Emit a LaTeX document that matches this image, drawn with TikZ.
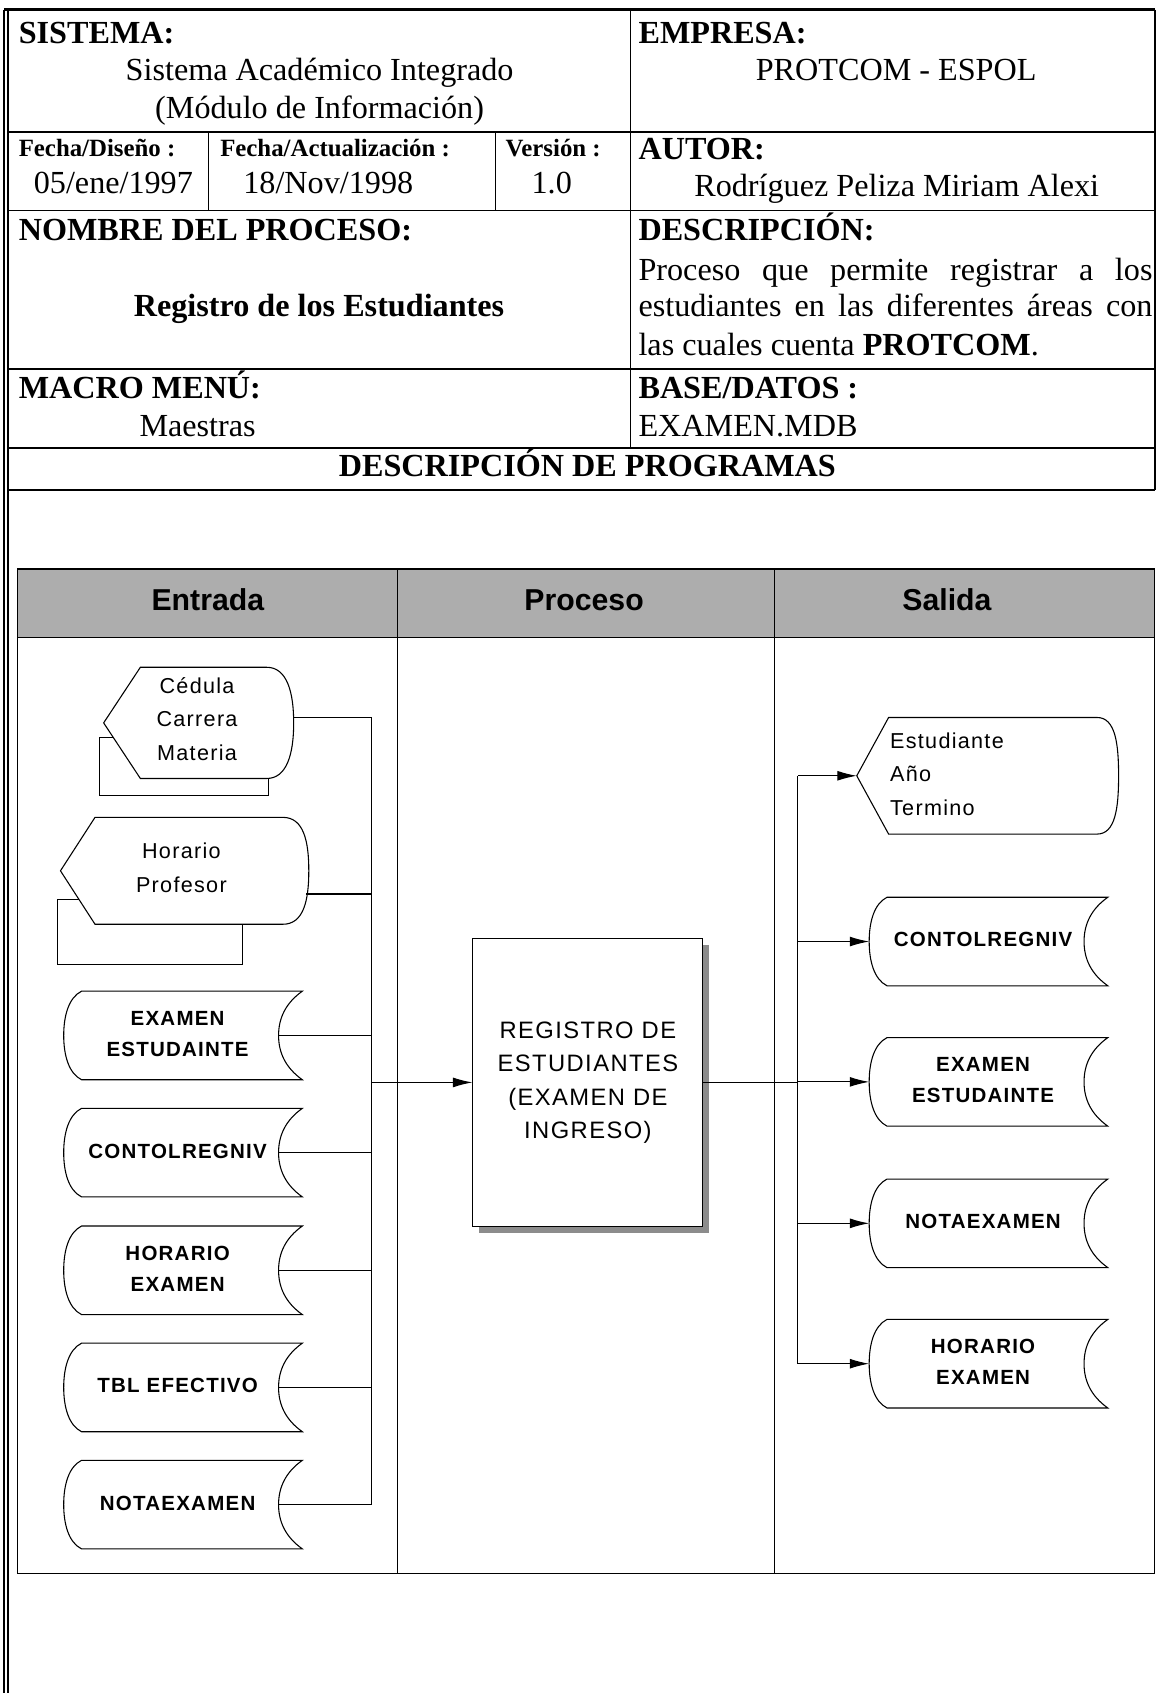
\documentclass[tikz,border=0pt]{standalone}
\usepackage{fontspec}
\setmainfont{Liberation Serif}
\newfontfamily\flujo[LetterSpace=6]{Liberation Sans}
\newfontfamily\carril{Liberation Sans}
\usetikzlibrary{arrows.meta, positioning, calc, shadows}
\tikzset{>=Latex}
\tikzset{
  linea/.style={line width=0.5pt},
  tabla/.style={line width=0.8pt},
  titulo/.style={font=\fontsize{14.9}{17}\selectfont\bfseries, anchor=base west, inner sep=0pt},
  valor/.style={font=\fontsize{14.9}{17}\selectfont, anchor=base, inner sep=0pt},
  chico/.style={font=\fontsize{11.5}{13}\selectfont\bfseries, anchor=base west, inner sep=0pt},
  datotxt/.style={font=\flujo\fontsize{9.5}{14.2}\selectfont\bfseries, align=center, inner sep=0pt},
  pantxt/.style={font=\flujo\fontsize{10}{15.6}\selectfont, align=center, inner sep=0pt},
  carrtxt/.style={font=\carril\fontsize{14}{16}\selectfont\bfseries, anchor=base, inner sep=0pt},
  proceso/.style={draw, fill=white, line width=0.5pt, minimum width=106.5pt, minimum height=133.25pt,
    align=center, inner sep=0pt, font=\flujo\fontsize{11}{15.5}\selectfont,
    drop shadow={shadow xshift=3pt, shadow yshift=-3pt, opacity=1, fill=black!45}}
}

\begin{document}
\begin{tikzpicture}[x=0.5pt, y=-0.5pt, >={Latex[length=9pt,width=4.6pt]}]

   % Rahmen des Blattes
   \useasboundingbox (0,0) rectangle (1071,1568);

   % Tabla de cabecera
   \draw[line width=1.3pt] (3.5,9) -- (1069.5,9);
   \draw[tabla] (3.5,9) -- (3.5,1568);
   \draw[tabla] (7.5,9) -- (7.5,1568);
   \draw[tabla] (1069.5,9) -- (1069.5,454);
   \draw[tabla] (7.5,122) -- (1069.5,122);
   \draw[tabla] (7.5,195) -- (1069.5,195);
   \draw[tabla] (7.5,342) -- (1069.5,342);
   \draw[tabla] (7.5,415) -- (1069.5,415);
   \draw[tabla] (7.5,454) -- (1069.5,454);
   \draw[tabla] (584,9) -- (584,415);
   \draw[tabla] (193,122) -- (193,195);
   \draw[tabla] (459,122) -- (459,195);

   % Sistema / Empresa
   \node[titulo] (sis) at (17,40.2) {SISTEMA:};
   \node[valor] (sisv1) at (296,75) {Sistema Académico Integrado};
   \node[valor] (sisv2) at (296,109.6) {(Módulo de Información)};
   \node[titulo] (emp) at (591,40.2) {EMPRESA:};
   \node[valor] (empv) at (830,75) {PROTCOM - ESPOL};

   % Fechas, version, autor
   \node[chico] (fdis) at (17,144.5) {Fecha/Diseño :};
   \node[valor] (fdisv) at (105,179) {05/ene/1997};
   \node[chico] (fact) at (203.6,144.5) {Fecha/Actualización :};
   \node[valor, anchor=base west] (factv) at (225,179) {18/Nov/1998};
   \node[chico] (ver) at (468,144.5) {Versión :};
   \node[valor] (verv) at (511,179) {1.0};
   \node[titulo] (aut) at (591,147.6) {AUTOR:};
   \node[valor] (autv) at (830.5,182) {Rodríguez Peliza Miriam Alexi};

   % Nombre del proceso / descripcion
   \node[titulo] (nom) at (17,223) {NOMBRE DEL PROCESO:};
   \node[valor] (nomv) at (295.5,293.4) {\textbf{Registro de los Estudiantes}};
   \node[titulo] (des) at (591,223) {DESCRIPCIÓN:};
   \node[valor, anchor=base west] (des1) at (591,259.4) {\makebox[238pt][s]{Proceso que permite registrar a los}};
   \node[valor, anchor=base west] (des2) at (591,293.4) {\makebox[238pt][s]{estudiantes en las diferentes áreas con}};
   \node[valor, anchor=base west] (des3) at (591,328.9) {las cuales cuenta \textbf{PROTCOM}.};

   % Macro menu / base de datos
   \node[titulo] (mac) at (17,369) {MACRO MENÚ:};
   \node[valor] (macv) at (183,404.6) {Maestras};
   \node[titulo] (bas) at (591,369) {BASE/DATOS :};
   \node[valor, anchor=base west] (basv) at (591,404.6) {EXAMEN.MDB};
   \node[titulo, anchor=base] (prog) at (544,441.6) {DESCRIPCIÓN DE PROGRAMAS};

   % Carriles
   \draw[linea, fill=black!32] (16,527) rectangle (1069.5,590.5);
   \draw[linea] (16,527) rectangle (1069.5,1457.5);
   \draw[linea] (368,527) -- (368,1457.5);
   \draw[linea] (717.5,527) -- (717.5,1457.5);
   \node[carrtxt] (ent) at (192.5,565) {Entrada};
   \node[carrtxt] (pro) at (541,565) {Proceso};
   \node[carrtxt] (sal) at (877,565) {Salida};

   % Pantalla Cedula (mit Blatt dahinter)
   \begin{scope}[shift={(184,669.5)}]
      \draw[linea, fill=white] (-92,13.5) rectangle (65,67.5);
      \draw[linea, fill=white] (-88,0) -- (-54,-51.5) -- (63,-51.5)
         .. controls (82,-51.5) and (88,-28) .. (88,0)
         .. controls (88,28) and (82,51.5) .. (63,51.5) -- (-54,51.5) -- cycle;
      \node[pantxt] (ced) at (-1.5,-3.5) {Cédula\\Carrera\\Materia};
      \coordinate (ced-r) at (88,-5);
   \end{scope}

   % Pantalla Horario Profesor
   \begin{scope}[shift={(171,806.5)}]
      \draw[linea, fill=white] (-118,26.5) rectangle (54,86.5);
      \draw[linea, fill=white] (-115,0) -- (-83,-49.5) -- (91,-49.5)
         .. controls (110,-49.5) and (115,-28) .. (115,0)
         .. controls (115,28) and (110,49.5) .. (91,49.5) -- (-83,49.5) -- cycle;
      \node[pantxt] (hpr) at (-3,-2.5) {Horario\\Profesor};
      \coordinate (hpr-r) at (112.5,21.5);
   \end{scope}

   % Pantalla Estudiante (Salida)
   \begin{scope}[shift={(915,718.5)}]
      \draw[linea] (-121.5,0) -- (-92,-54) -- (101,-54)
         .. controls (118,-54) and (121,-30) .. (121,0)
         .. controls (121,30) and (118,54) .. (101,54) -- (-92,54) -- cycle;
      \node[pantxt, align=left, anchor=west] (est) at (-91,-1.5) {Estudiante\\Año\\Termino};
      \coordinate (est-l) at (-121.5,0);
   \end{scope}

   % Tablas (Datenspeicher)
   \foreach \cx/\cy/\nm/\tx in {169.5/959/eEx/{EXAMEN\\ESTUDAINTE}, 169.5/1067.5/eCo/CONTOLREGNIV,
         169.5/1176.5/eHo/{HORARIO\\EXAMEN}, 169.5/1285/eTb/TBL EFECTIVO, 169.5/1393.5/eNo/NOTAEXAMEN,
         915.5/872/sCo/CONTOLREGNIV, 915.5/1002/sEx/{EXAMEN\\ESTUDAINTE},
         915.5/1133/sNo/NOTAEXAMEN, 915.5/1263/sHo/{HORARIO\\EXAMEN}}{
      \begin{scope}[shift={(\cx,\cy)}]
         \draw[linea] (-94,-41) -- (110.5,-41)
            .. controls (95,-30) and (88.5,-16) .. (88.5,0)
            .. controls (88.5,16) and (95,30) .. (110.5,41) -- (-94,41)
            .. controls (-106,35) and (-110.5,18) .. (-110.5,0)
            .. controls (-110.5,-18) and (-106,-35) .. (-94,-41) -- cycle;
         \node[datotxt] (\nm) at (-5,-1.5) {\tx};
         \coordinate (\nm-r) at (88.5,0);
         \coordinate (\nm-l) at (-110.5,0);
      \end{scope}
   }

   % Proceso
   \node[proceso] (proc) at (544.5,1002.5) {REGISTRO DE\\ESTUDIANTES\\(EXAMEN DE\\INGRESO)};

   % Sammelleitungen
   \coordinate (busE) at (344.3,0);
   \coordinate (busS) at (739,0);

   % Entradas hacia el proceso
   \draw[linea] (ced-r) -- (ced-r -| busE);
   \draw[linea] (hpr-r) -- (hpr-r -| busE);
   \draw[linea] (eEx-r) -- (eEx-r -| busE);
   \draw[linea] (eCo-r) -- (eCo-r -| busE);
   \draw[linea] (eHo-r) -- (eHo-r -| busE);
   \draw[linea] (eTb-r) -- (eTb-r -| busE);
   \draw[linea] (eNo-r) -- (eNo-r -| busE);
   \draw[linea] (ced-r -| busE) -- (eNo-r -| busE);
   \draw[linea, ->] (proc.west -| busE) -- (proc.west);

   % Salidas
   \draw[linea] (proc.east) -- (proc.east -| busS);
   \draw[linea] (est-l -| busS) -- (sHo-l -| busS);
   \draw[linea, ->] (est-l -| busS) -- (est-l);
   \draw[linea, ->] (sCo-l -| busS) -- (sCo-l);
   \draw[linea, ->] (sEx-l -| busS) -- (sEx-l);
   \draw[linea, ->] (sNo-l -| busS) -- (sNo-l);
   \draw[linea, ->] (sHo-l -| busS) -- (sHo-l);

\end{tikzpicture}
\end{document}
